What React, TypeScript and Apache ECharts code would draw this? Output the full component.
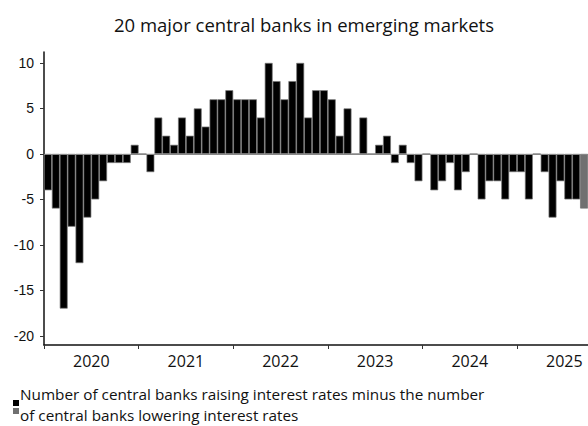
import React, { useEffect, useRef } from "react";
import * as echarts from "echarts";

const years = ["2020", "2021", "2022", "2023", "2024", "2025"];

const values2020 = [-4, -6, -17, -8, -12, -7, -5, -3, -1, -1, -1, 1];
const values2021 = [0, -2, 4, 2, 1, 4, 2, 5, 3, 6, 6, 7];
const values2022 = [6, 6, 6, 4, 10, 8, 6, 8, 10, 4, 7, 7];
const values2023 = [6, 2, 5, 0, 4, 0, 1, 2, -1, 1, -1, -3];
const values2024 = [0, -4, -3, -1, -4, -2, 0, -5, -3, -3, -5, -2];
const values2025 = [-2, -5, 0, -2, -7, -3, -5, -5, -6];

const yTicks = [-20, -15, -10, -5, 0, 5, 10];

const seriesName =
  "Number of central banks raising interest rates minus the number of central banks lowering interest rates";
const legendLine1 = "Number of central banks raising interest rates minus the number";
const legendLine2 = "of central banks lowering interest rates";
const titleText = "20 major central banks in emerging markets";

const allValues = [
  ...values2020,
  ...values2021,
  ...values2022,
  ...values2023,
  ...values2024,
  ...values2025,
];

const monthLabels: string[] = [];
years.forEach((y) => {
  for (let m = 1; m <= 12; m++) monthLabels.push(`${y}-${String(m).padStart(2, "0")}`);
});
const categories = monthLabels.slice(0, allValues.length);

const HUMANIST = "'Open Sans', Lato, 'Noto Sans', sans-serif";

export default function App() {
  const ref = useRef<HTMLDivElement>(null);
  useEffect(() => {
    if (!ref.current) return;
    const chart = echarts.init(ref.current, undefined, { renderer: "svg" });
    const n = allValues.length;
    const data = allValues.map((v, i) =>
      i === n - 1 ? { value: v, itemStyle: { color: "#707070", borderColor: "#707070" } } : v
    );
    const tickVals = years.map((_, i) => i * 12);
    const labelVals = years.map((_, i) => i * 12 + 6);
    chart.setOption({
      animation: false,
      grid: { left: 44, right: 0, top: 52, bottom: 81, containLabel: false },
      xAxis: [
        {
          type: "category",
          data: categories,
          axisLine: { show: false },
          axisTick: { show: false },
          axisLabel: { show: false },
        },
        {
          type: "value",
          position: "bottom",
          min: 0,
          max: n,
          axisLine: { show: true, onZero: false, lineStyle: { color: "#111", width: 1.5 } },
          axisTick: { show: true, length: 4, customValues: tickVals, lineStyle: { color: "#333", width: 1 } },
          axisLabel: {
            show: true,
            customValues: labelVals,
            formatter: (v: number) => years[Math.round((v - 6) / 12)] ?? "",
            fontFamily: HUMANIST,
            fontSize: 16,
            color: "#111",
            margin: 8,
          },
          splitLine: { show: false },
        },
      ],
      yAxis: {
        type: "value",
        min: -21,
        max: 11.2,
        axisLine: { show: true, lineStyle: { color: "#111", width: 1.5 } },
        axisTick: { show: true, length: 4, customValues: yTicks, lineStyle: { color: "#333", width: 1 } },
        axisLabel: {
          customValues: yTicks,
          fontFamily: "'Liberation Sans', Arial, sans-serif",
          fontSize: 14,
          color: "#111",
          margin: 10,
        },
        splitLine: { show: false },
      },
      series: [
        {
          name: seriesName,
          type: "bar",
          xAxisIndex: 0,
          data,
          barCategoryGap: "0%",
          itemStyle: { color: "#000", borderColor: "#777", borderWidth: 0.7 },
          markLine: {
            silent: true,
            symbol: "none",
            label: { show: false },
            lineStyle: { color: "#888", width: 1, type: "solid" },
            data: [{ yAxis: 0 }],
          },
        },
      ],
      graphic: [
        {
          type: "text",
          x: 304,
          y: 24,
          style: {
            text: titleText,
            fontFamily: HUMANIST,
            fontSize: 18.5,
            fill: "#111",
            align: "center",
            verticalAlign: "middle",
          },
        },
        { type: "rect", shape: { x: 13, y: 400, width: 6, height: 6 }, style: { fill: "#000" } },
        { type: "rect", shape: { x: 13, y: 408, width: 6, height: 6 }, style: { fill: "#707070" } },
        {
          type: "text",
          x: 20,
          y: 383.5,
          style: {
            text: legendLine1 + "\n" + legendLine2,
            fontFamily: HUMANIST,
            fontSize: 15.3,
            lineHeight: 20.7,
            fill: "#111",
            verticalAlign: "top",
          },
        },
      ],
    });
    return () => chart.dispose();
  }, []);
  return <div ref={ref} style={{ width: 588, height: 426, position: "absolute", left: 0, top: 0 }} />;
}
